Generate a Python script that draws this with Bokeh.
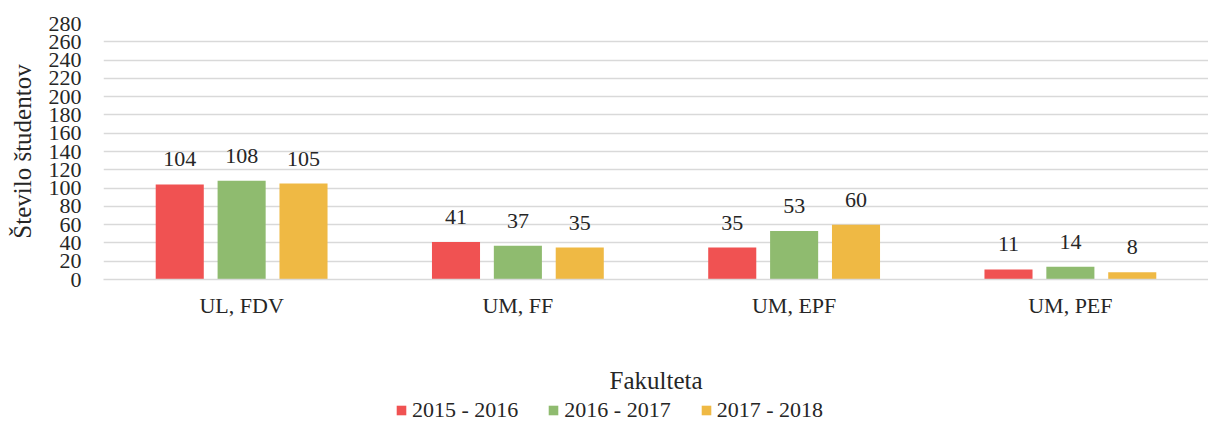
from bokeh.plotting import figure
from bokeh.models import ColumnDataSource, Legend, LegendItem, Range1d, FixedTicker, LabelSet
from bokeh.layouts import column
from bokeh.transform import dodge
from bokeh.embed import file_html
from bokeh.resources import INLINE

categories = ["UL, FDV", "UM, FF", "UM, EPF", "UM, PEF"]
series_names = ["2015 - 2016", "2016 - 2017", "2017 - 2018"]
v2015 = [104, 41, 35, 11]
v2016 = [108, 37, 53, 14]
v2017 = [105, 35, 60, 8]
y_ticks = list(range(0, 281, 20))
colors = ["#F05252", "#8FBB6F", "#EFB944"]

FONT = "Liberation Serif"
TXT = "#262626"
W = 1208

p = figure(x_range=categories, y_range=Range1d(0, 280), width=W, height=396,
           output_backend="svg", toolbar_location=None,
           min_border_left=103, min_border_right=0, min_border_top=23, min_border_bottom=114)
p.outline_line_color = None

offsets = [-0.224, 0.0, 0.224]
values = [v2015, v2016, v2017]
for name, vals, off, col in zip(series_names, values, offsets, colors):
    src = ColumnDataSource(dict(cat=categories, val=vals, lab=[str(v) for v in vals]))
    p.vbar(x=dodge("cat", off, range=p.x_range), top="val", width=0.174, source=src,
           fill_color=col, line_color=None)
    labels = LabelSet(x=dodge("cat", off, range=p.x_range), y="val", text="lab", source=src,
                      text_align="center", text_baseline="bottom", y_offset=18,
                      text_font=FONT, text_font_size="22px", text_color=TXT)
    p.add_layout(labels)

p.xgrid.grid_line_color = None
p.ygrid.grid_line_color = "#D9D9D9"
p.ygrid.grid_line_width = 1.5
p.yaxis.ticker = FixedTicker(ticks=y_ticks)

p.yaxis.axis_line_color = None
p.yaxis.major_tick_line_color = None
p.yaxis.minor_tick_line_color = None
p.yaxis.major_tick_out = 0
p.yaxis.major_label_standoff = 22
p.yaxis.major_label_text_font = FONT
p.yaxis.major_label_text_font_size = "22px"
p.yaxis.major_label_text_color = TXT
p.yaxis.axis_label = "Število študentov"
p.yaxis.axis_label_text_font = FONT
p.yaxis.axis_label_text_font_size = "25px"
p.yaxis.axis_label_text_font_style = "normal"
p.yaxis.axis_label_text_color = TXT
p.yaxis.axis_label_standoff = 10

p.xaxis.axis_line_color = "#D9D9D9"
p.xaxis.axis_line_width = 1.5
p.xaxis.major_tick_line_color = None
p.xaxis.minor_tick_line_color = None
p.xaxis.major_tick_out = 0
p.xaxis.major_label_standoff = 13
p.xaxis.major_label_text_font = FONT
p.xaxis.major_label_text_font_size = "22px"
p.xaxis.major_label_text_color = TXT
p.xaxis.axis_label = "Fakulteta"
p.xaxis.axis_label_text_font = FONT
p.xaxis.axis_label_text_font_size = "25px"
p.xaxis.axis_label_text_font_style = "normal"
p.xaxis.axis_label_text_color = TXT
p.xaxis.axis_label_standoff = 46

# legend strip
q = figure(width=W, height=27, x_range=Range1d(0, 1), y_range=Range1d(0, 1),
           output_backend="svg", toolbar_location=None,
           x_axis_location=None, y_axis_location=None,
           min_border_left=0, min_border_right=0, min_border_top=0, min_border_bottom=0)
q.grid.grid_line_color = None
q.outline_line_color = None
items = []
for name, col in zip(series_names, colors):
    r = q.vbar(x=[-5], top=[-5], width=0.1, fill_color=col, line_color=None)
    items.append(LegendItem(label=name, renderers=[r]))
legend = Legend(items=items, orientation="horizontal", location=(292, 0),
                label_text_font=FONT, label_text_font_size="22px", label_text_color=TXT,
                glyph_width=12, glyph_height=12, label_standoff=5, spacing=29,
                border_line_color=None, background_fill_alpha=0, padding=0, margin=0,
                label_height=20)
q.add_layout(legend, "center")

layout = column(p, q, spacing=0)
open("out.html", "w").write(file_html(layout, INLINE))
